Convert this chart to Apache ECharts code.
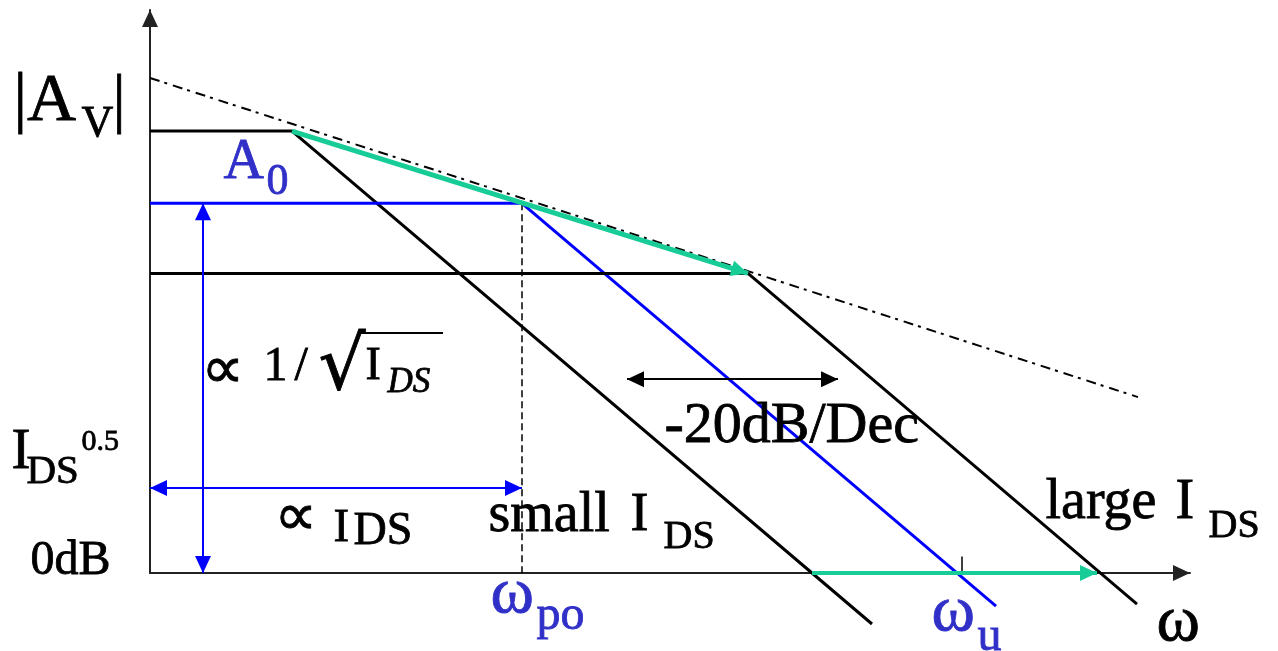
<!DOCTYPE html>
<html>
<head>
<meta charset="utf-8">
<script src="https://cdn.jsdelivr.net/npm/echarts@6/dist/echarts.min.js"></script>
<style>
  html, body { margin: 0; padding: 0; background: #fff; }
  #chart { width: 1278px; height: 651px; }
</style>
</head>
<body>
<div id="chart"></div>
<script>
// Asymptotic |Av| Bode plots of a single-stage amplifier at three bias currents.
// x: decades of ω measured from the axis origin, y: gain in dB.
const smallIdsGain = [[0, 104], [1.42, 104], [7.22, -12]];
const midIdsGain = [[0, 87], [3.72, 87], [8.46, -7.8]];
const largeIdsGain = [[0, 70.5], [5.98, 70.5], [9.87, -7.3]];
const gbwEnvelope = [[0, 116.5], [9.88, 41.4]];

// Arrows and guide segments (start, end)
const poleLocus = [[1.42, 104], [5.98, 70.5]];
const unityGainShift = [[6.62, 0], [9.47, 0]];
const gainSpan = [[0.53, 87], [0.53, 0]];
const poleSpan = [[0, 20], [3.72, 20]];
const decadeSpan = [[4.77, 45.6], [6.88, 45.6]];
const poleMarker = [[3.72, 87], [3.72, 0]];
const unityTick = [[8.12, 0], [8.12, 3.9]];

const xExtent = [0, 10.4];
const yExtent = [0, 132.5];

const SERIF = '"Liberation Serif", "Times New Roman", serif';
const SYMBOLS = '"DejaVu Sans", sans-serif';
const INK = '#000000';
const LINE_BLUE = '#0000ff';
const TEXT_BLUE = '#3030c8';
const GREEN = '#18cc98';
const AXIS = '#222222';

// Filled triangular head whose tip sits exactly on the segment end
const HEAD = 'path://M0,-17M0,0L8,17L-8,17Z';
const HEAD_SIZE = [16, 34];

// Text pieces: [text, x, y, fontSize, color, fontFamily, fontStyle]
const annotations = [
  ['|A', -1.36, 110.69, 68, INK],
  ['V', -0.68, 105.44, 44, INK],
  ['|', -0.37, 110.69, 66, INK],
  ['A', 0.74, 96.23, 56, TEXT_BLUE],
  ['0', 1.17, 91.74, 44, TEXT_BLUE],
  ['∝', 0.52, 47.0, 60, INK, SYMBOLS],
  ['1', 1.14, 48.36, 48, INK],
  ['/', 1.45, 48.36, 48, INK],
  ['√', 1.69, 47.66, 74, INK, SYMBOLS],
  ['I', 2.16, 48.36, 46, INK],
  ['DS', 2.38, 44.67, 35, INK, SERIF, 'italic'],
  ['∝', 1.25, 12.47, 60, INK, SYMBOLS],
  ['I', 1.84, 10.36, 47, INK],
  ['DS', 2.04, 9.65, 46, INK],
  ['I', -1.38, 28.05, 57, INK],
  ['DS', -1.23, 23.49, 41, INK],
  ['0.5', -0.68, 30.62, 30, INK],
  ['0dB', -1.19, 2.64, 48, INK],
  ['-20dB/Dec', 5.15, 34.27, 58, INK],
  ['small', 3.39, 13.23, 56, INK],
  ['I', 4.81, 13.23, 54, INK],
  ['DS', 5.14, 8.12, 40, INK],
  ['large', 8.96, 16.22, 56, INK],
  ['I', 10.26, 16.22, 56, INK],
  ['DS', 10.59, 10.94, 40, INK],
  ['ω', 3.41, -5.27, 66, TEXT_BLUE],
  ['po', 3.87, -10.31, 48, TEXT_BLUE],
  ['ω', 7.82, -9.51, 66, TEXT_BLUE],
  ['u', 8.28, -15.25, 48, TEXT_BLUE],
  ['ω', 10.07, -11.86, 66, INK]
];
// Overbar of the square root
const sqrtBar = [[2.11, 56.48], [2.93, 56.48]];

function curve(name, points, color, width, dash, z) {
  return {
    name, type: 'line', data: points, z: z || 2,
    showSymbol: false, symbol: 'none', clip: false, silent: true,
    lineStyle: { color, width, type: dash || 'solid', cap: 'butt' },
    emphasis: { disabled: true }
  };
}

function segment(name, points, color, width, heads, dash, z) {
  return {
    name, type: 'line', data: [], z: z || 3, silent: true, clip: false,
    markLine: {
      silent: true, animation: false,
      symbol: heads, symbolSize: HEAD_SIZE,
      label: { show: false },
      emphasis: { disabled: true },
      lineStyle: { color, width, type: dash || 'solid', opacity: 1 },
      data: [[{ coord: points[0] }, { coord: points[1] }]]
    }
  };
}

const textSeries = {
  name: 'labels', type: 'scatter', z: 10, silent: true, clip: false,
  symbolSize: 1, itemStyle: { color: 'rgba(0,0,0,0)' },
  emphasis: { disabled: true },
  data: annotations.map(([t, x, y, size, color, family, style]) => ({
    value: [x, y],
    label: {
      show: true, position: [0, 0], align: 'left', verticalAlign: 'middle',
      formatter: t, fontSize: size, color, opacity: 1,
      // a hairline outline in the text colour gives the glyphs a slightly heavier stroke
      textBorderColor: color, textBorderWidth: 0.8, textShadowBlur: 0,
      fontFamily: family || SERIF, fontStyle: style || 'normal', fontWeight: 'normal'
    }
  }))
};

const chart = echarts.init(document.getElementById('chart'), null, { renderer: 'canvas' });
chart.setOption({
  animation: false,
  backgroundColor: '#ffffff',
  grid: { left: 150, right: 88, top: 10, bottom: 78, containLabel: false },
  xAxis: {
    type: 'value', min: xExtent[0], max: xExtent[1],
    axisLine: { show: true, onZero: false, symbol: ['none', HEAD], symbolSize: HEAD_SIZE,
      lineStyle: { color: AXIS, width: 2 } },
    axisTick: { show: false }, axisLabel: { show: false }, splitLine: { show: false }
  },
  yAxis: {
    type: 'value', min: yExtent[0], max: yExtent[1],
    axisLine: { show: true, onZero: false, symbol: ['none', HEAD], symbolSize: HEAD_SIZE,
      lineStyle: { color: AXIS, width: 2 } },
    axisTick: { show: false }, axisLabel: { show: false }, splitLine: { show: false }
  },
  series: [
    curve('envelope', gbwEnvelope, INK, 2, [10, 5, 3, 6], 1),
    curve('small IDS', smallIdsGain, INK, 3),
    curve('mid IDS', midIdsGain, LINE_BLUE, 3),
    curve('large IDS', largeIdsGain, INK, 3),
    segment('pole marker', poleMarker, INK, 1.5, ['none', 'none'], [7, 4]),
    segment('unity tick', unityTick, INK, 1.5, ['none', 'none']),
    segment('gain span', gainSpan, LINE_BLUE, 2, [HEAD, HEAD]),
    segment('pole span', poleSpan, LINE_BLUE, 2, [HEAD, HEAD]),
    segment('decade span', decadeSpan, INK, 2, [HEAD, HEAD]),
    segment('pole locus', poleLocus, GREEN, 5, ['none', HEAD], null, 4),
    segment('unity gain shift', unityGainShift, GREEN, 4, ['none', HEAD], null, 4),
    segment('sqrt bar', sqrtBar, INK, 2, ['none', 'none']),
    textSeries
  ]
});
</script>
</body>
</html>
